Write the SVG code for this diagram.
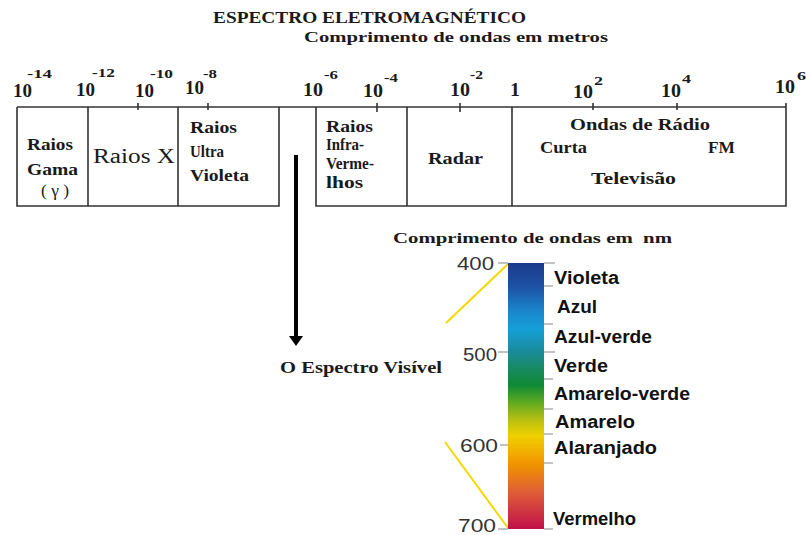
<svg xmlns="http://www.w3.org/2000/svg" width="806" height="535" viewBox="0 0 806 535">
<style>
.ser{font-family:"Liberation Serif","DejaVu Serif",serif;font-weight:bold;fill:#1a1a1a}
.reg{font-weight:normal}
.ten{font-size:18px}
.sup{font-size:13px}
.box{font-size:16px}
.lbl{font-family:"Liberation Sans","DejaVu Sans",sans-serif;font-weight:bold;font-size:18px;fill:#111}
.num{font-family:"Liberation Sans","DejaVu Sans",sans-serif;font-size:18px;fill:#333}
.ln{stroke:#333;stroke-width:1.6;fill:none}
.tk{stroke:#999;stroke-width:1.2}
.yl{stroke:#f5d800;stroke-width:2;fill:none}
</style>
<defs>
<linearGradient id="spec" x1="0" y1="0" x2="0" y2="1">
<stop offset="0" stop-color="#1b3a8c"/>
<stop offset="0.09" stop-color="#1d52a4"/>
<stop offset="0.18" stop-color="#1a86cc"/>
<stop offset="0.25" stop-color="#159fd6"/>
<stop offset="0.33" stop-color="#1a8c9c"/>
<stop offset="0.40" stop-color="#178a60"/>
<stop offset="0.46" stop-color="#108a34"/>
<stop offset="0.52" stop-color="#5aa822"/>
<stop offset="0.59" stop-color="#b8c012"/>
<stop offset="0.65" stop-color="#f0d000"/>
<stop offset="0.70" stop-color="#f2b400"/>
<stop offset="0.76" stop-color="#f09200"/>
<stop offset="0.86" stop-color="#e05e36"/>
<stop offset="1" stop-color="#c0104a"/>
</linearGradient>
</defs>
<rect width="806" height="535" fill="#fff"/>

<g id="title">
<text class="ser" x="213" y="23" font-size="16" textLength="313" lengthAdjust="spacingAndGlyphs">ESPECTRO ELETROMAGNÉTICO</text>
<text class="ser" x="304" y="42" font-size="14" textLength="304" lengthAdjust="spacingAndGlyphs">Comprimento de ondas em metros</text>
</g>

<g id="scale">
<text class="ser ten" x="13" y="97" textLength="19" lengthAdjust="spacingAndGlyphs">10</text>
<text class="ser sup" x="27" y="78" textLength="25" lengthAdjust="spacingAndGlyphs">-14</text>
<text class="ser ten" x="76" y="96" textLength="19" lengthAdjust="spacingAndGlyphs">10</text>
<text class="ser sup" x="92" y="77" textLength="23" lengthAdjust="spacingAndGlyphs">-12</text>
<text class="ser ten" x="135" y="97" textLength="19" lengthAdjust="spacingAndGlyphs">10</text>
<text class="ser sup" x="150" y="78" textLength="23" lengthAdjust="spacingAndGlyphs">-10</text>
<text class="ser ten" x="185" y="94" textLength="19" lengthAdjust="spacingAndGlyphs">10</text>
<text class="ser sup" x="203" y="78" textLength="14" lengthAdjust="spacingAndGlyphs">-8</text>
<text class="ser ten" x="303" y="96" textLength="20" lengthAdjust="spacingAndGlyphs">10</text>
<text class="ser sup" x="324" y="79" textLength="14" lengthAdjust="spacingAndGlyphs">-6</text>
<text class="ser ten" x="363" y="97" textLength="20" lengthAdjust="spacingAndGlyphs">10</text>
<text class="ser sup" x="384" y="82" textLength="14" lengthAdjust="spacingAndGlyphs">-4</text>
<text class="ser ten" x="450" y="96" textLength="20" lengthAdjust="spacingAndGlyphs">10</text>
<text class="ser sup" x="470" y="79" textLength="13" lengthAdjust="spacingAndGlyphs">-2</text>
<text class="ser ten" x="510" y="96" textLength="10" lengthAdjust="spacingAndGlyphs">1</text>
<text class="ser ten" x="573" y="98" textLength="20" lengthAdjust="spacingAndGlyphs">10</text>
<text class="ser sup" x="594" y="85" textLength="9" lengthAdjust="spacingAndGlyphs">2</text>
<text class="ser ten" x="661" y="97" textLength="20" lengthAdjust="spacingAndGlyphs">10</text>
<text class="ser sup" x="682" y="83" textLength="9" lengthAdjust="spacingAndGlyphs">4</text>
<text class="ser ten" x="775" y="93" textLength="20" lengthAdjust="spacingAndGlyphs">10</text>
<text class="ser sup" x="797" y="80" textLength="9" lengthAdjust="spacingAndGlyphs">6</text>
</g>

<g id="bands-frame">
<line class="ln" x1="17" y1="107" x2="786" y2="107"/>
<polyline class="ln" points="17,107 17,206 279,206 279,107"/>
<polyline class="ln" points="316,107 316,206 786,206 786,103"/>
<line class="ln" x1="88" y1="107" x2="88" y2="206"/>
<line class="ln" x1="178" y1="107" x2="178" y2="206"/>
<line class="ln" x1="407" y1="107" x2="407" y2="206"/>
<line class="ln" x1="512" y1="107" x2="512" y2="206"/>
<line class="ln" x1="138" y1="103" x2="138" y2="110"/>
<line class="ln" x1="208" y1="103" x2="208" y2="110"/>
<line class="ln" x1="377" y1="103" x2="377" y2="112"/>
<line class="ln" x1="460" y1="103" x2="460" y2="112"/>
<line class="ln" x1="593" y1="103" x2="593" y2="110"/>
<line class="ln" x1="677" y1="103" x2="677" y2="110"/>
</g>

<g id="gama">
<text class="ser box" x="27" y="150" textLength="46" lengthAdjust="spacingAndGlyphs">Raios</text>
<text class="ser box" x="27" y="175" textLength="51" lengthAdjust="spacingAndGlyphs">Gama</text>
<text class="ser box reg" x="41" y="196" textLength="28" lengthAdjust="spacingAndGlyphs">( γ )</text>
</g>
<g id="raiosx">
<text class="ser reg" x="93" y="163" font-size="20" textLength="82" lengthAdjust="spacingAndGlyphs">Raios X</text>
</g>
<g id="uv">
<text class="ser box" x="190" y="133" textLength="47" lengthAdjust="spacingAndGlyphs">Raios</text>
<text class="ser box" x="190" y="157" textLength="34" lengthAdjust="spacingAndGlyphs">Ultra</text>
<text class="ser box" x="190" y="181" textLength="59" lengthAdjust="spacingAndGlyphs">Violeta</text>
</g>
<g id="infra">
<text class="ser box" x="326" y="132" textLength="47" lengthAdjust="spacingAndGlyphs">Raios</text>
<text class="ser box" x="326" y="150" textLength="38" lengthAdjust="spacingAndGlyphs">Infra-</text>
<text class="ser box" x="326" y="169" textLength="48" lengthAdjust="spacingAndGlyphs">Verme-</text>
<text class="ser box" x="326" y="188" textLength="37" lengthAdjust="spacingAndGlyphs">lhos</text>
</g>
<g id="radar">
<text class="ser box" x="428" y="164" textLength="55" lengthAdjust="spacingAndGlyphs">Radar</text>
</g>
<g id="radio">
<text class="ser box" x="570" y="130" textLength="140" lengthAdjust="spacingAndGlyphs">Ondas de Rádio</text>
<text class="ser box" x="540" y="153" textLength="47" lengthAdjust="spacingAndGlyphs">Curta</text>
<text class="ser box" x="708" y="153" textLength="27" lengthAdjust="spacingAndGlyphs">FM</text>
<text class="ser box" x="591" y="184" textLength="85" lengthAdjust="spacingAndGlyphs">Televisão</text>
</g>

<g id="connectors">
<line x1="296" y1="155" x2="296" y2="338" stroke="#000" stroke-width="4"/>
<polygon points="289,336 303,336 296,346" fill="#000"/>
<line class="yl" x1="508" y1="264" x2="446" y2="323"/>
<line class="yl" x1="445" y1="442" x2="508" y2="528"/>
</g>

<g id="visivel-label">
<text class="ser" x="280" y="373" font-size="16" textLength="162" lengthAdjust="spacingAndGlyphs">O Espectro Visível</text>
<text class="ser" x="393" y="243" font-size="14" textLength="279" lengthAdjust="spacingAndGlyphs" xml:space="preserve">Comprimento de ondas em  nm</text>
</g>

<g id="visible-bar">
<rect x="508" y="263" width="36" height="266" fill="url(#spec)"/>
<line class="tk" x1="498" y1="263" x2="508" y2="263"/>
<line class="tk" x1="498" y1="352" x2="508" y2="352"/>
<line class="tk" x1="500" y1="445" x2="508" y2="445"/>
<line class="tk" x1="498" y1="529" x2="508" y2="529"/>
<line class="tk" x1="544" y1="263" x2="555" y2="263"/>
<line class="tk" x1="544" y1="286" x2="553" y2="286"/>
<line class="tk" x1="544" y1="324" x2="553" y2="324"/>
<line class="tk" x1="544" y1="352" x2="555" y2="352"/>
<line class="tk" x1="544" y1="379" x2="553" y2="379"/>
<line class="tk" x1="544" y1="409" x2="553" y2="409"/>
<line class="tk" x1="544" y1="434" x2="553" y2="434"/>
<line class="tk" x1="544" y1="463" x2="553" y2="463"/>
<line class="tk" x1="544" y1="529" x2="553" y2="529"/>
<text class="num" x="457" y="270" textLength="37" lengthAdjust="spacingAndGlyphs">400</text>
<text class="num" x="463" y="361" textLength="34" lengthAdjust="spacingAndGlyphs">500</text>
<text class="num" x="460" y="452" textLength="38" lengthAdjust="spacingAndGlyphs">600</text>
<text class="num" x="458" y="532" textLength="38" lengthAdjust="spacingAndGlyphs">700</text>
</g>

<g id="colour-labels">
<text class="lbl" x="554" y="284" textLength="65" lengthAdjust="spacingAndGlyphs">Violeta</text>
<text class="lbl" x="557" y="313" textLength="40" lengthAdjust="spacingAndGlyphs">Azul</text>
<text class="lbl" x="554" y="343" textLength="98" lengthAdjust="spacingAndGlyphs">Azul-verde</text>
<text class="lbl" x="554" y="372" textLength="54" lengthAdjust="spacingAndGlyphs">Verde</text>
<text class="lbl" x="554" y="400" textLength="136" lengthAdjust="spacingAndGlyphs">Amarelo-verde</text>
<text class="lbl" x="555" y="428" textLength="80" lengthAdjust="spacingAndGlyphs">Amarelo</text>
<text class="lbl" x="554" y="454" textLength="103" lengthAdjust="spacingAndGlyphs">Alaranjado</text>
<text class="lbl" x="553" y="525" textLength="83" lengthAdjust="spacingAndGlyphs">Vermelho</text>
</g>
</svg>
